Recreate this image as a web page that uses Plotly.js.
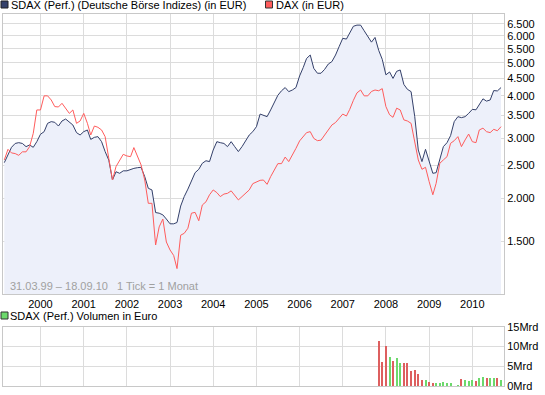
<!DOCTYPE html>
<html>
<head>
<meta charset="utf-8">
<script src="https://cdn.plot.ly/plotly-3.0.1.min.js"></script>
<style>html,body{margin:0;padding:0;background:#fff;}#chart{width:545px;height:395px;}</style>
</head>
<body>
<div id="chart"></div>
<script>
// Monthly ticks from March 1999 to September 2010
const months = [];
for (let i = 0; i < 139; i++) {
  const yr = 1999 + Math.floor((2 + i) / 12);
  const mo = (2 + i) % 12 + 1;
  months.push(yr + '-' + String(mo).padStart(2, '0') + '-01');
}

// SDAX (Perf.) in EUR, monthly
const sdax = [2547,2700,2825,2900,2915,2900,2838,2870,2825,2935,
  3085,3140,3322,3360,3345,3262,3375,3420,3345,3285,3120,3070,
  3140,3176,2980,3022,3036,2935,2745,2590,2265,2395,2370,2410,2410,
  2435,2450,2462,2468,2317,2142,2118,1818,1810,1790,1740,1685,1685,1700,1900,2025,2130,2265,2380,2435,2536,2580,2565,
  2774,2935,2915,2900,2838,2935,2838,2745,2838,2955,3070,3140,
  3248,3537,3514,3475,3636,3820,4015,4140,4230,4115,4161,4230,
  4575,4848,5150,5270,4815,4660,4660,4785,4960,5040,5270,5575,
  5900,5870,6140,6400,6450,6450,6210,6000,5750,5935,5440,5120,
  4610,4700,4500,4720,4764,4320,4180,4115,3475,2774,2565,2787,
  2565,2370,2380,2590,2838,2915,3057,3360,3475,3452,3475,3553,
  3650,3640,3755,3920,3860,3890,4145,4135,4230];

// DAX in EUR (rebased), monthly
const dax = [2594,2787,2720,2708,2676,2740,2740,2838,3105,3636,
  3636,4000,4000,3890,3720,3710,3803,3680,3553,3636,3322,3375,
  3553,3322,3070,3262,3234,3176,3036,2620,2265,2480,2594,2694,2665,
  2652,2820,2652,2508,2265,1935,1935,1460,1650,1740,1490,1412,1360,1245,1560,1580,1635,1810,1820,1720,1913,1955,2050,
  2118,2080,2025,2060,2070,2105,2050,1980,2025,2070,2118,2210,
  2230,2260,2265,2200,2317,2435,2530,2530,2645,2565,2676,2805,
  2950,3036,3120,3140,3000,2955,2965,3070,3176,3285,3340,3440,
  3537,3490,3650,3880,4080,4161,4000,4000,4120,4161,4140,4200,
  3720,3520,3460,3680,3636,3400,3375,3322,2935,2594,2435,2468,
  2240,2050,2215,2536,2594,2652,2902,2955,3036,2838,2970,3090,
  2935,2915,3176,3215,3140,3120,3190,3160,3248];

// SDAX volume in Mrd EUR (Nov 2007 - Sep 2010)
const volMonths = months.slice(104);
const volume = [11.5,6.15,10.2,7.4,6.3,7.2,5.9,5.9,5.9,3.9,4.0,3.0,1.5,1.5,1.0,0.8,0.8,0.8,1.0,0.8,0.8,0,0.25,1.8,1.5,1.35,1.5,1.35,2.0,2.2,2.0,2.0,2.0,2.0,1.5];

const yearTicks = ['2000','2001','2002','2003','2004','2005','2006','2007','2008','2009','2010'];
const priceTicks = [1500,2000,2500,3000,3500,4000,4500,5000,5500,6000,6500];
const priceTickText = ['1.500','2.000','2.500','3.000','3.500','4.000','4.500','5.000','5.500','6.000','6.500'];
const volTicks = [0,5,10,15];
const volTickText = ['0Mrd','5Mrd','10Mrd','15Mrd'];

const volColors = volume.map((v, i) => sdax[104 + i] >= sdax[103 + i] ? '#6cd96c' : '#dd5f5f');

const GRID = '#dcdcdc';
const FRAME = '#c8c8c8';
const xRange = ['1999-02-18', '2010-09-26'];
const yearVals = yearTicks.map(y => y + '-01-01');

const traces = [
  {x: months, y: sdax, type: 'scatter', mode: 'lines', line: {color: '#34406a', width: 1},
   fill: 'tozeroy', fillcolor: 'rgb(237,240,250)', xaxis: 'x', yaxis: 'y', hoverinfo: 'skip'},
  {x: months, y: dax, type: 'scatter', mode: 'lines', line: {color: '#ff5c5c', width: 1},
   xaxis: 'x', yaxis: 'y', hoverinfo: 'skip'},
  {x: volMonths, y: volume, type: 'bar', marker: {color: volColors, line: {width: 0}},
   width: 1.45e9, xaxis: 'x2', yaxis: 'y2', hoverinfo: 'skip'}
];

const W = 501, H = 372, L = 3, B = 386;
const px = v => (v - L) / W;
const py = v => (B - v) / H;

const layout = {
  width: 545, height: 395,
  margin: {l: 3, r: 41, t: 14, b: 9, pad: 0},
  paper_bgcolor: '#fff', plot_bgcolor: '#fff',
  showlegend: false,
  font: {family: 'Liberation Sans, Arial, sans-serif', size: 11, color: '#000'},
  xaxis: {type: 'date', range: xRange, anchor: 'y', domain: [0, 1],
    tickvals: yearVals, ticktext: yearTicks, showgrid: true, gridcolor: GRID,
    showline: true, linecolor: FRAME, mirror: true, ticks: '', zeroline: false,
    tickfont: {size: 11}},
  yaxis: {type: 'log', domain: [py(294), 1], range: [3.0206, 3.8422], side: 'right',
    tickvals: priceTicks, ticktext: priceTickText, showgrid: true, gridcolor: GRID,
    showline: true, linecolor: FRAME, mirror: true, ticks: '', zeroline: false,
    tickfont: {size: 11}},
  xaxis2: {type: 'date', range: xRange, anchor: 'y2', domain: [0, 1],
    tickvals: yearVals, showticklabels: false, showgrid: true, gridcolor: GRID,
    showline: true, linecolor: FRAME, mirror: true, ticks: '', zeroline: false},
  yaxis2: {domain: [0, py(326.7)], range: [0, 15], side: 'right', anchor: 'x2',
    tickvals: volTicks, ticktext: volTickText, showgrid: true, gridcolor: GRID,
    showline: true, linecolor: FRAME, mirror: true, ticks: '', zeroline: false,
    tickfont: {size: 11}},
  bargap: 0,
  shapes: [
    {type: 'rect', xref: 'paper', yref: 'paper', x0: px(1), x1: px(8), y0: py(8), y1: py(1),
     fillcolor: '#34406a', line: {color: '#222', width: 1}},
    {type: 'rect', xref: 'paper', yref: 'paper', x0: px(265.5), x1: px(272.5), y0: py(8), y1: py(1),
     fillcolor: '#ff5c5c', line: {color: '#333', width: 1}},
    {type: 'rect', xref: 'paper', yref: 'paper', x0: px(1), x1: px(8), y0: py(319), y1: py(312),
     fillcolor: '#6cd96c', line: {color: '#333', width: 1}}
  ],
  annotations: [
    {xref: 'paper', yref: 'paper', x: px(9), y: py(5), xanchor: 'left', yanchor: 'middle', showarrow: false,
     text: 'SDAX (Perf.) (Deutsche Börse Indizes) (in EUR)', font: {size: 11, color: '#000'}},
    {xref: 'paper', yref: 'paper', x: px(274), y: py(5), xanchor: 'left', yanchor: 'middle', showarrow: false,
     text: 'DAX (in EUR)', font: {size: 11, color: '#000'}},
    {xref: 'paper', yref: 'paper', x: px(8), y: py(315.5), xanchor: 'left', yanchor: 'middle', showarrow: false,
     text: 'SDAX (Perf.) Volumen in Euro', font: {size: 11, color: '#000'}},
    {xref: 'paper', yref: 'paper', x: px(8), y: py(285.5), xanchor: 'left', yanchor: 'middle', showarrow: false,
     text: '31.03.99 \u2013 18.09.10\u00a0\u00a0\u00a01 Tick = 1 Monat', font: {size: 11, color: '#a0a0a0'}}
  ]
};

Plotly.newPlot('chart', traces, layout, {staticPlot: true, displayModeBar: false});
</script>
</body>
</html>
